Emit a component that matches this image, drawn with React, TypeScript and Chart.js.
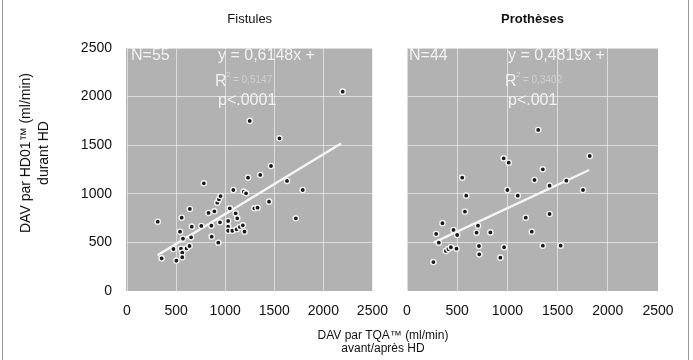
import React, { useEffect, useRef } from 'react';
import { Chart, registerables } from 'chart.js';

Chart.register(...registerables);

// ---- Data ----
const fistulesX = [313, 353, 473, 503, 550, 563, 570, 540, 557, 563, 607, 637, 653, 660, 640, 757, 783, 830, 860, 863, 890, 920, 937, 953, 930, 947, 1030, 1047, 1030, 1030, 1073, 1083, 1107, 1117, 1123, 1150, 1180, 1197, 1190, 1213, 1233, 1297, 1330, 1357, 1447, 1467, 1630, 1720, 1790, 2197, 1553, 1250];
const fistulesY = [713, 336, 432, 312, 435, 394, 538, 610, 754, 347, 439, 463, 552, 662, 844, 669, 1108, 803, 672, 559, 820, 909, 944, 977, 497, 707, 720, 851, 662, 620, 620, 1039, 799, 635, 748, 659, 676, 610, 1022, 1005, 1166, 851, 857, 1194, 919, 1286, 1132, 748, 1039, 2051, 1571, 1750];

const prothesesX = [263, 290, 317, 353, 387, 413, 437, 463, 493, 500, 550, 577, 590, 693, 707, 717, 720, 830, 930, 963, 967, 1000, 1013, 1103, 1183, 1243, 1270, 1353, 1353, 1420, 1420, 1530, 1587, 1753, 1820, 1307];
const prothesesY = [298, 587, 497, 697, 412, 432, 450, 628, 435, 576, 1166, 816, 981, 600, 672, 463, 377, 603, 343, 1365, 450, 1039, 1320, 981, 754, 610, 1142, 1252, 466, 792, 1084, 466, 1135, 1039, 1389, 1657];

const axisTicks = [0, 500, 1000, 1500, 2000, 2500];
const panelTitles = ['Fistules', 'Prothèses'];
const nLabels = ['N=55', 'N=44'];
const equations = ['y = 0,6148x +', 'y = 0,4819x +'];
const r2Values = ['= 0,5147', '= 0,3402'];
const pValues = ['p<.0001', 'p<.001'];
const fitSlopes = [0.6148, 0.4819];
const fitIntercepts = [178, 370];
const fitStartX = [310, 265];
const fitEndX = [2180, 1815];
const yTitle = ['DAV par HD01™ (ml/min)', 'durant HD'];
const xTitle = ['DAV par TQA™ (ml/min)', 'avant/après HD'];

const FONT = "'Liberation Sans', Arial, Helvetica, sans-serif";

function makeBgPlugin(extendLeft: number) {
  return {
    id: 'plotBg',
    beforeDraw(chart: any) {
      const { ctx, chartArea: a } = chart;
      ctx.save();
      ctx.fillStyle = '#b2b2b2';
      ctx.fillRect(a.left - extendLeft, a.top, a.right - a.left + extendLeft, a.bottom - a.top);
      ctx.restore();
    },
  };
}

function makeTextPlugin(idx: number, nOff: number, eqOff: number) {
  return {
    id: 'statText',
    afterDatasetsDraw(chart: any) {
      const { ctx, chartArea: a } = chart;
      ctx.save();
      ctx.textBaseline = 'middle';
      ctx.textAlign = 'left';
      ctx.fillStyle = '#f2f2f2';
      ctx.font = `16px ${FONT}`;
      ctx.fillText(nLabels[idx], a.left + nOff, a.top + 8);
      ctx.fillText(equations[idx], a.left + eqOff, a.top + 8);
      ctx.fillText('R', a.left + eqOff - 3, a.top + 34);
      ctx.fillText(pValues[idx], a.left + eqOff, a.top + 53);
      ctx.font = `8px ${FONT}`;
      ctx.fillStyle = '#d8d8d8';
      ctx.fillText('2', a.left + eqOff + 8, a.top + 27);
      ctx.font = `10px ${FONT}`;
      ctx.fillStyle = '#cfcfcf';
      ctx.fillText(r2Values[idx], a.left + eqOff + 15, a.top + 32);
      ctx.restore();
    },
  };
}

function buildConfig(idx: number, xs: number[], ys: number[], showY: boolean, padLeft: number, padRight: number) {
  const pts = xs.map((x, i) => ({ x, y: ys[i] }));
  const fit = [
    { x: fitStartX[idx], y: fitSlopes[idx] * fitStartX[idx] + fitIntercepts[idx] },
    { x: fitEndX[idx], y: fitSlopes[idx] * fitEndX[idx] + fitIntercepts[idx] },
  ];
  const gridCommon = {
    color: 'rgba(255,255,255,0.55)',
    lineWidth: 1,
    drawTicks: false,
  };
  return {
    type: 'scatter' as const,
    data: {
      datasets: [
        {
          data: fit,
          showLine: true,
          borderColor: '#f6f6f6',
          borderWidth: 2.4,
          pointRadius: 0,
          order: 2,
        },
        {
          data: pts,
          pointStyle: 'circle',
          pointRadius: 2.6,
          backgroundColor: '#1a1a1a',
          borderColor: '#f4f4f4',
          borderWidth: 1.4,
          order: 1,
        },
      ],
    },
    options: {
      animation: false,
      responsive: false,
      maintainAspectRatio: false,
      events: [],
      layout: { padding: { left: padLeft, right: padRight, top: 0, bottom: 0 } },
      plugins: {
        legend: { display: false },
        tooltip: { enabled: false },
        title: {
          display: true,
          text: panelTitles[idx],
          fullSize: false,
          color: '#111',
          font: { family: FONT, size: 13, weight: idx === 0 ? 'normal' : 'bold', lineHeight: 1.2 },
          padding: { top: 12, bottom: 20.4 },
        },
      },
      scales: {
        x: {
          type: 'linear',
          min: 0,
          max: 2500,
          afterBuildTicks: (s: any) => { s.ticks = axisTicks.map((v) => ({ value: v })); },
          ticks: {
            color: '#111',
            padding: 12,
            font: { family: FONT, size: 14 },
            callback: (v: any) => String(v),
            maxRotation: 0,
          },
          grid: { ...gridCommon, borderDash: [2, 2] },
          border: { display: false },
          afterFit: (s: any) => { s.height = 69; },
        },
        y: {
          type: 'linear',
          min: 0,
          max: 2500,
          afterBuildTicks: (s: any) => { s.ticks = axisTicks.map((v) => ({ value: v })); },
          ticks: {
            display: showY,
            color: '#111',
            padding: 15,
            font: { family: FONT, size: 14 },
            callback: (v: any) => String(v),
          },
          grid: { ...gridCommon, borderDash: [2, 2] },
          border: { display: false },
          afterFit: (s: any) => { s.width = showY ? 127 : 0; },
        },
      },
    },
    plugins: [makeBgPlugin(idx === 0 ? 1 : 0), makeTextPlugin(idx, idx === 0 ? 4 : 2, idx === 0 ? 91 : 101)],
  };
}

export default function App() {
  const leftRef = useRef<HTMLCanvasElement | null>(null);
  const rightRef = useRef<HTMLCanvasElement | null>(null);

  useEffect(() => {
    const c1 = new Chart(leftRef.current as HTMLCanvasElement, buildConfig(0, fistulesX, fistulesY, true, 0, 22) as any);
    const c2 = new Chart(rightRef.current as HTMLCanvasElement, buildConfig(1, prothesesX, prothesesY, false, 27, 35) as any);
    return () => {
      c1.destroy();
      c2.destroy();
    };
  }, []);

  return (
    <div style={{ position: 'absolute', left: 0, top: 0, width: 693, height: 360, background: '#fff', overflow: 'hidden' }}>
      <div style={{ position: 'absolute', left: 2, top: 0, width: 1, height: 360, background: '#999' }} />
      <div style={{ position: 'absolute', left: 688, top: 0, width: 1, height: 360, background: '#999' }} />
      <canvas ref={leftRef} width={400} height={360} style={{ position: 'absolute', left: 0, top: 0, width: 400, height: 360 }} />
      <canvas ref={rightRef} width={313} height={360} style={{ position: 'absolute', left: 380, top: 0, width: 313, height: 360 }} />
      <div
        style={{
          position: 'absolute',
          left: 34 - 130,
          top: 153 - 18,
          width: 260,
          height: 36,
          transform: 'rotate(-90deg)',
          transformOrigin: '50% 50%',
          textAlign: 'center',
          fontFamily: FONT,
          fontSize: 14,
          lineHeight: '18px',
          color: '#111',
          whiteSpace: 'nowrap',
        }}
      >
        <div>{yTitle[0]}</div>
        <div>{yTitle[1]}</div>
      </div>
      <div
        style={{
          position: 'absolute',
          left: 283,
          top: 328.5,
          width: 200,
          textAlign: 'center',
          fontFamily: FONT,
          fontSize: 12,
          lineHeight: '13px',
          color: '#111',
          whiteSpace: 'nowrap',
        }}
      >
        <div>{xTitle[0]}</div>
        <div>{xTitle[1]}</div>
      </div>
    </div>
  );
}
